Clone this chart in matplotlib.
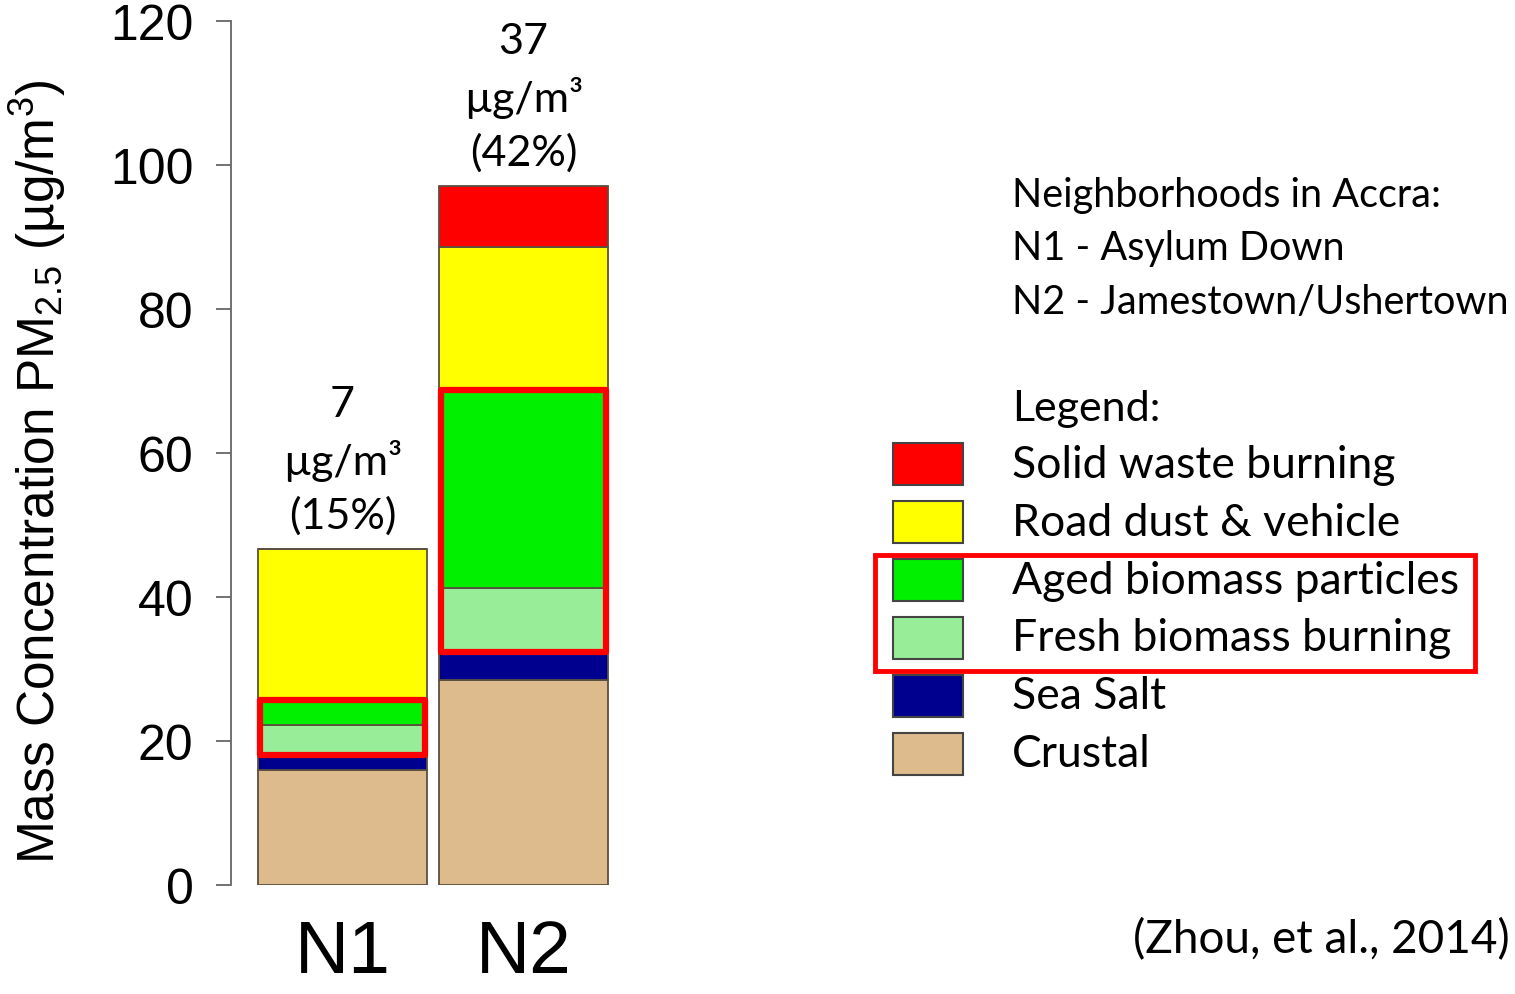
import matplotlib
matplotlib.use("Agg")
import matplotlib.pyplot as plt
from matplotlib.patches import Rectangle

# === Données (en µg/m3) ===
neighborhoods = ["N1", "N2"]
sources = ["Crustal", "Sea Salt", "Fresh biomass burning",
           "Aged biomass particles", "Road dust & vehicle", "Solid waste burning"]
crustal = [16.0, 28.5]
sea_salt = [2.0, 3.8]
fresh_biomass = [4.2, 9.0]
aged_biomass = [3.5, 27.5]
road_dust = [21.0, 19.8]
solid_waste = [0.0, 8.5]
biomass_labels = ["7\nµg/m³\n(15%)", "37\nµg/m³\n(42%)"]
info_lines = ["Neighborhoods in Accra:", "N1 - Asylum Down", "N2 - Jamestown/Ushertown"]

colors = ["#DEBB8D", "#00008F", "#98EE98", "#00F000", "#FFFF00", "#FF0000"]
series = [crustal, sea_salt, fresh_biomass, aged_biomass, road_dust, solid_waste]

plt.rcParams["mathtext.fontset"] = "custom"
plt.rcParams["mathtext.rm"] = "Liberation Sans"
sans = "Liberation Sans"
calib = "Lato"

W, H = 1515, 995
fig = plt.figure(figsize=(W / 100, H / 100), dpi=100)
ax = fig.add_axes([231 / W, 1 - 886 / H, (620 - 231) / W, (886 - 22) / H])

# === Barres empilées ===
x = list(range(len(neighborhoods)))
bottom = [0.0] * len(x)
bottoms = []
for vals, col in zip(series, colors):
    bottoms.append(list(bottom))
    ax.bar(x, vals, bottom=bottom, width=0.93, color=col,
           edgecolor="#5a5040", linewidth=1.3)
    bottom = [b + v for b, v in zip(bottom, vals)]

# === Cadres rouges autour de la combustion de biomasse ===
for i in x:
    y0 = bottoms[2][i]
    h = fresh_biomass[i] + aged_biomass[i]
    ax.add_patch(Rectangle((i - 0.465 + 0.01, y0), 0.93 - 0.02, h, fill=False,
                           edgecolor="#FF0000", linewidth=4.5, joinstyle="round", zorder=5))

# === Annotations au-dessus des barres ===
for i, lab in enumerate(biomass_labels):
    ax.annotate(lab, (i, bottom[i]), xytext=(0, 10), textcoords="offset points",
                ha="center", va="bottom", fontsize=31, family=calib, linespacing=1.45)

# === Axes ===
ax.set_ylim(0, 120)
ax.set_xlim(-0.616, 1.533)
ax.set_yticks(range(0, 121, 20))
ax.tick_params(axis="y", labelsize=36, length=11, width=1.3, color="#666666", pad=16)
for t in ax.get_yticklabels():
    t.set_family(sans)
ax.set_xticks(x)
ax.set_xticklabels(neighborhoods, fontsize=54, family=sans)
ax.tick_params(axis="x", length=0, pad=24)
for s in ["top", "right", "bottom"]:
    ax.spines[s].set_visible(False)
ax.spines["left"].set_color("#666666")
ax.spines["left"].set_linewidth(1.3)

fig.text(38 / W, 1 - 472 / H, r"Mass Concentration PM$_\mathregular{2.5}$ (µg/m$^\mathregular{3}$)",
         rotation=90, ha="center", va="center", fontsize=37, family=sans)

# === Texte et légende à droite ===
for k, line in enumerate(info_lines):
    fig.text(1012 / W, 1 - (196 + 53 * k) / H, line, fontsize=28.5, family=calib, va="center")
fig.text(1012 / W, 1 - 409 / H, "Legend:", fontsize=31, family=calib, va="center")

for k, (name, col) in enumerate(zip(sources[::-1], colors[::-1])):
    yc = 465 + 58 * k
    fig.patches.append(Rectangle((893 / W, 1 - (yc + 21) / H), 70 / W, 42 / H,
                                 transform=fig.transFigure, facecolor=col,
                                 edgecolor="#444444", linewidth=1.5))
    fig.text(1012 / W, 1 - yc / H, name, fontsize=32, family=calib, va="center")

fig.patches.append(Rectangle((875 / W, 1 - 672 / H), 600 / W, 116 / H,
                             transform=fig.transFigure, fill=False,
                             edgecolor="#FF0000", linewidth=3.5))

fig.text(1510 / W, 1 - 940 / H, "(Zhou, et al., 2014)", fontsize=33, family=calib,
         ha="right", va="center")

fig.savefig("out.png", dpi=100)
